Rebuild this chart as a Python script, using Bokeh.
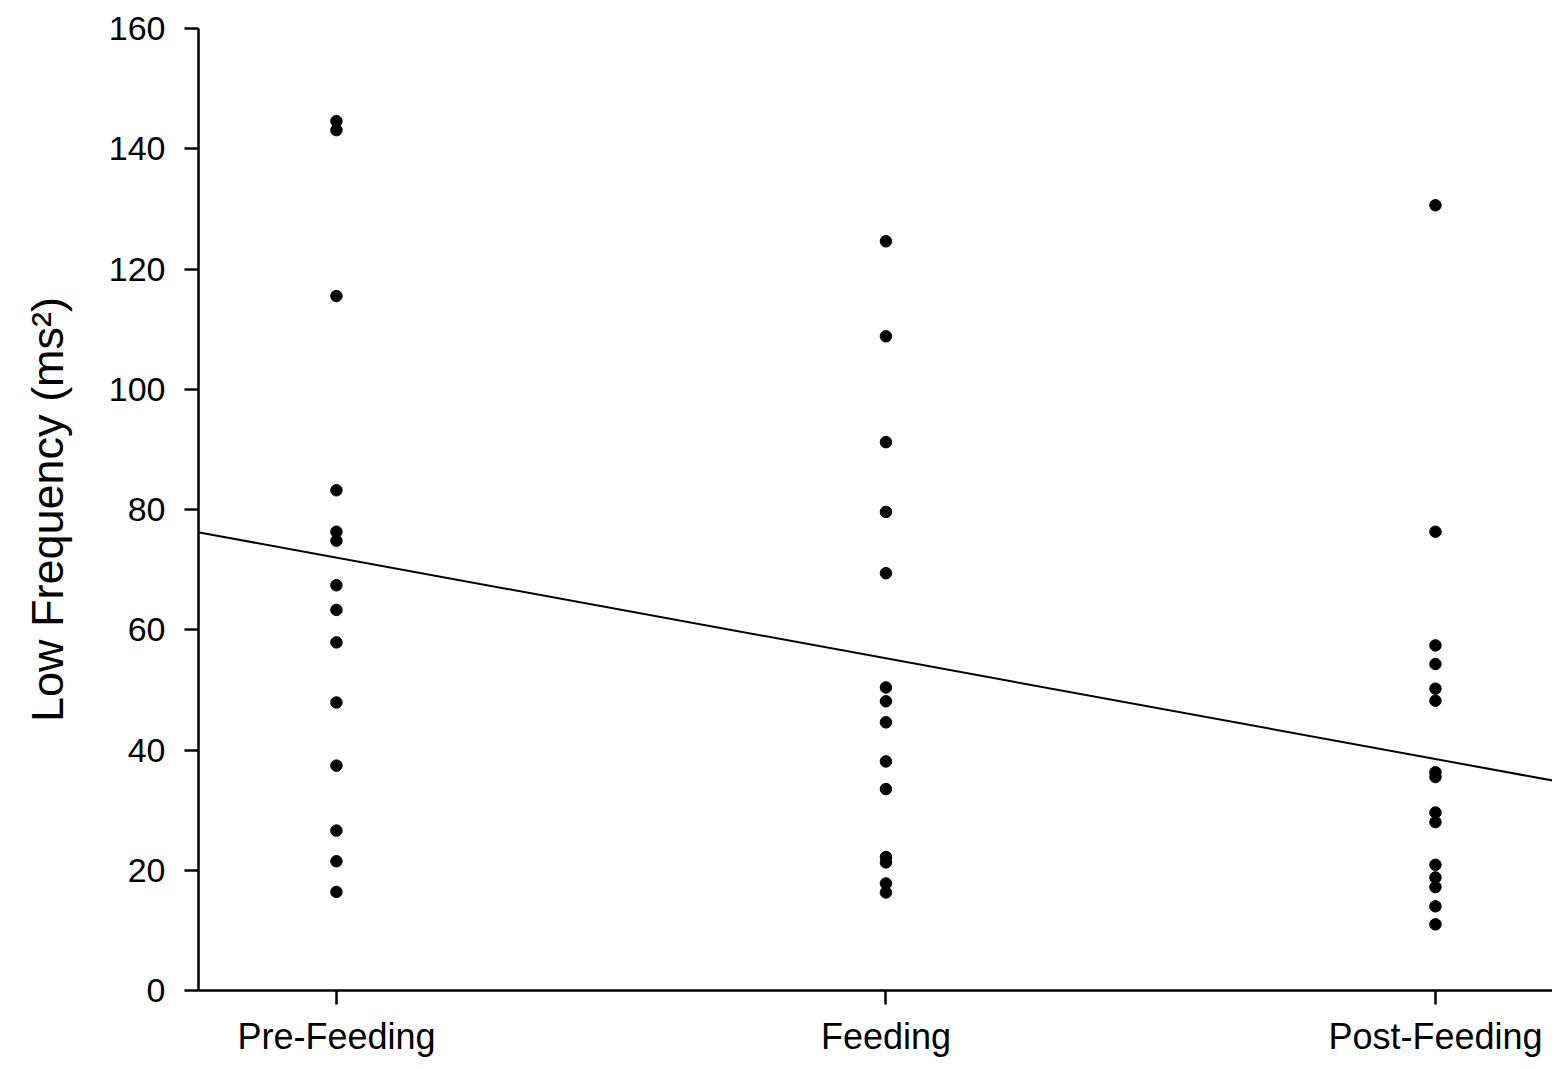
from bokeh.plotting import figure
from bokeh.models import Range1d, FixedTicker, Slope, ColumnDataSource
from bokeh.embed import file_html
from bokeh.resources import INLINE

# ---- data ----
categories = ["Pre-Feeding", "Feeding", "Post-Feeding"]
category_pos = [1, 2, 3]

pre_feeding = [144.6, 143.1, 115.5, 83.2, 76.3, 74.8, 67.4, 63.3, 57.9, 47.9, 37.4, 26.6, 21.5, 16.4]
feeding = [124.6, 108.8, 91.2, 79.6, 69.4, 50.4, 48.1, 44.6, 38.1, 33.5, 22.2, 21.3, 17.8, 16.3]
post_feeding = [130.6, 76.3, 57.4, 54.3, 50.2, 48.2, 36.3, 35.5, 29.6, 28.0, 20.9, 18.8, 17.2, 14.0, 11.0]

# regression line: value at Pre-Feeding and slope per category
fit_at_first = 72.0
fit_slope = -16.75

y_ticks = [0, 20, 40, 60, 80, 100, 120, 140, 160]

# ---- build ----
xs, ys = [], []
for pos, series in zip(category_pos, [pre_feeding, feeding, post_feeding]):
    xs += [pos] * len(series)
    ys += series
src = ColumnDataSource(dict(x=xs, y=ys))

FONT = "Liberation Sans"

p = figure(width=1552, height=1061, output_backend="svg", toolbar_location=None,
           x_range=Range1d(0.749, 3.213), y_range=Range1d(0, 160),
           min_border_left=198, min_border_right=0, min_border_top=28, min_border_bottom=71)
p.outline_line_color = None
p.xgrid.visible = False
p.ygrid.visible = False
p.background_fill_color = "white"
p.border_fill_color = "white"

p.scatter("x", "y", source=src, size=11.5, marker="circle", fill_color="black", line_color="black")

p.add_layout(Slope(gradient=fit_slope, y_intercept=fit_at_first - fit_slope * category_pos[0],
                   line_color="black", line_width=2))

# axes
p.xaxis.ticker = FixedTicker(ticks=category_pos)
p.xaxis.major_label_overrides = {pos: lab for pos, lab in zip(category_pos, categories)}
p.yaxis.ticker = FixedTicker(ticks=y_ticks)
p.yaxis.axis_label = "Low Frequency (ms²)"

for ax in (p.xaxis[0], p.yaxis[0]):
    ax.axis_line_color = "black"
    ax.axis_line_width = 2.5
    ax.major_tick_line_color = "black"
    ax.major_tick_line_width = 2.5
    ax.major_tick_out = 14
    ax.major_tick_in = 0
    ax.minor_tick_line_color = None
    ax.major_label_text_font = FONT
    ax.major_label_text_color = "black"

p.yaxis.major_label_text_font_size = "34px"
p.xaxis.major_label_text_font_size = "36px"
p.xaxis.major_label_standoff = 11
p.yaxis.major_label_standoff = 19
p.yaxis.axis_label_text_font = FONT
p.yaxis.axis_label_text_font_size = "45px"
p.yaxis.axis_label_text_font_style = "normal"
p.yaxis.axis_label_text_color = "black"
p.yaxis.axis_label_standoff = 33

open("out.html", "w").write(file_html(p, INLINE))
